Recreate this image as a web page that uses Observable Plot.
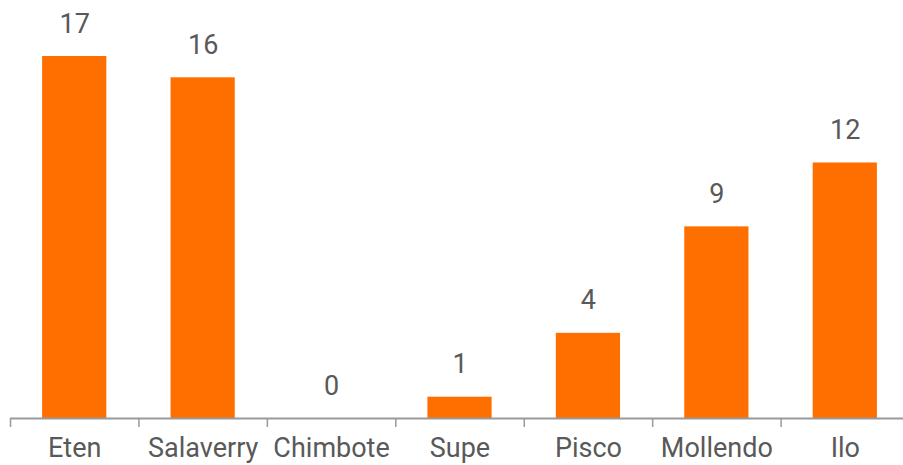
<!DOCTYPE html>
<html>
<head>
<meta charset="utf-8">
<script src="https://cdn.jsdelivr.net/npm/d3@7"></script>
<script src="https://cdn.jsdelivr.net/npm/@observablehq/plot@0.6"></script>
<style>
  html, body { margin: 0; padding: 0; background: #fff; }
  #chart svg { display: block; }
</style>
</head>
<body>
<div id="chart"></div>
<script>
const ports = ["Eten", "Salaverry", "Chimbote", "Supe", "Pisco", "Mollendo", "Ilo"];
const values = [17, 16, 0, 1, 4, 9, 12];
const data = ports.map((p, i) => ({port: p, value: values[i]}));

const orange = "#FF6F00";
const textColor = "#595959";
const axisColor = "#999999";
const font = "Roboto, 'DejaVu Sans', sans-serif";

const chart = Plot.plot({
  width: 903,
  height: 465,
  marginTop: 0,
  marginRight: 0,
  marginBottom: 47,
  marginLeft: 10,
  style: {fontFamily: font, background: "#fff", overflow: "visible"},
  x: {domain: ports, range: [10, 909], paddingInner: 0.5, paddingOuter: 0.25, round: false, label: null},
  y: {domain: [0, 17], range: [418, 56], axis: null},
  marks: [
    Plot.barY(data, {x: "port", y: "value", fill: orange}),
    Plot.ruleY([0], {stroke: axisColor, strokeWidth: 2}),
    Plot.axisX({tickSize: 9, dx: -64.2, text: null, stroke: axisColor, strokeWidth: 1.5, label: null}),
    Plot.axisX({tickSize: 0, tickPadding: 19, fontSize: 27, fill: textColor, label: null}),
    Plot.text(data, {x: "port", y: "value", text: d => String(d.value), dy: -24, lineAnchor: "bottom", fontSize: 27, fill: textColor})
  ]
});
document.getElementById("chart").appendChild(chart);
</script>
</body>
</html>
